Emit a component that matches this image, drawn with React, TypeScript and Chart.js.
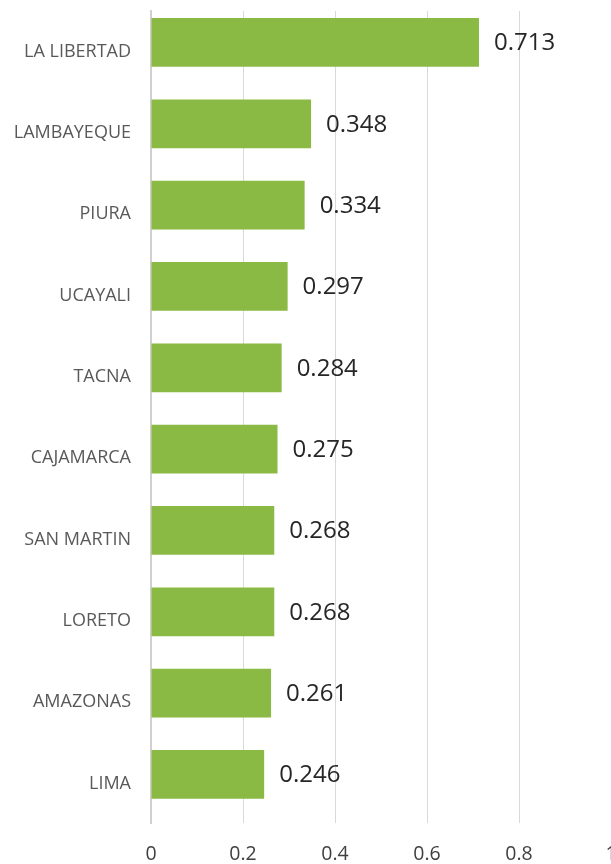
import React, { useEffect, useRef } from "react";
import { Chart, registerables } from "chart.js";

Chart.register(...registerables);

const categories = [
  "LA LIBERTAD",
  "LAMBAYEQUE",
  "PIURA",
  "UCAYALI",
  "TACNA",
  "CAJAMARCA",
  "SAN MARTIN",
  "LORETO",
  "AMAZONAS",
  "LIMA",
];
const values = [0.713, 0.348, 0.334, 0.297, 0.284, 0.275, 0.268, 0.268, 0.261, 0.246];
const xTicks = [0, 0.2, 0.4, 0.6, 0.8, 1];

const FONT = "'Open Sans', 'DejaVu Sans', sans-serif";

const valueLabels = {
  id: "valueLabels",
  afterDatasetsDraw(chart: any) {
    const ctx = chart.ctx;
    const meta = chart.getDatasetMeta(0);
    ctx.save();
    ctx.font = `400 24px ${FONT}`;
    ctx.fillStyle = "#262626";
    ctx.textAlign = "left";
    ctx.textBaseline = "middle";
    meta.data.forEach((bar: any, i: number) => {
      ctx.fillText(values[i].toFixed(3), bar.x + 15, bar.y + 1);
    });
    ctx.restore();
  },
};

export default function App() {
  const ref = useRef<HTMLCanvasElement | null>(null);
  useEffect(() => {
    document.body.style.margin = "0";
    if (!ref.current) return;
    const chart = new Chart(ref.current, {
      type: "bar",
      data: {
        datasets: [
          {
            data: values.map((v, i) => ({ x: v, y: i })),
            backgroundColor: "#8aba43",
            borderWidth: 0,
            categoryPercentage: 1,
            barPercentage: 0.6,
          },
        ],
      },
      options: {
        indexAxis: "y",
        animation: false,
        responsive: false,
        layout: { padding: { top: 11, left: 0, right: 0, bottom: 0 } },
        plugins: { legend: { display: false }, tooltip: { enabled: false } },
        scales: {
          x: {
            type: "linear",
            min: 0,
            max: 1,
            afterBuildTicks: (scale: any) => {
              scale.ticks = xTicks.map((v) => ({ value: v }));
            },
            afterFit: (scale: any) => {
              scale.height = 41;
              scale.paddingLeft = 0;
              scale.paddingRight = 0;
            },
            grid: { color: "#d9d9d9", lineWidth: 1, drawTicks: false },
            border: { display: false },
            ticks: {
              padding: 20,
              color: "#404040",
              font: { family: FONT, size: 19.5 },
              maxRotation: 0,
              callback: (v: any) => String(Number(v)),
            },
          },
          y: {
            type: "linear",
            reverse: true,
            offset: false,
            bounds: "data",
            afterDataLimits: (scale: any) => {
              scale.min = -0.387;
              scale.max = 9.597;
            },
            afterBuildTicks: (scale: any) => {
              scale.ticks = categories.map((_, i) => ({ value: i }));
            },
            afterFit: (scale: any) => {
              scale.width = 151;
              scale.paddingTop = 0;
              scale.paddingBottom = 0;
            },
            grid: { display: false, drawTicks: false, offset: false },
            border: { display: true, color: "#d0d0d0", width: 2 },
            ticks: {
              padding: 20,
              labelOffset: 9,
              includeBounds: false,
              color: "#595959",
              font: { family: FONT, size: 18 },
              callback: (v: any) => categories[Math.round(Number(v))] ?? "",
            },
          },
        },
      },
      plugins: [valueLabels],
    });
    return () => chart.destroy();
  }, []);
  return (
    <div style={{ width: 611, height: 864 }}>
      <canvas ref={ref} width={611} height={864} />
    </div>
  );
}
